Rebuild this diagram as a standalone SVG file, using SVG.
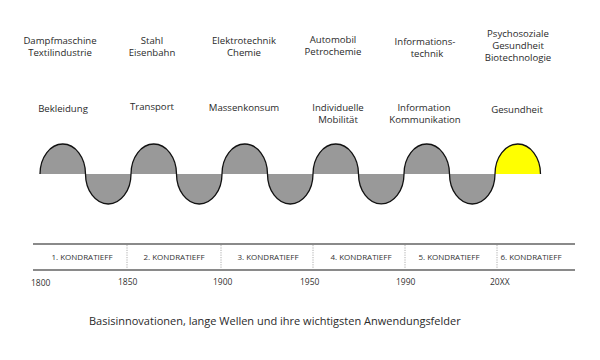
<svg xmlns="http://www.w3.org/2000/svg" width="600" height="360" viewBox="0 0 600 360">
<style>
text{font-family:"Open Sans","Noto Sans","Liberation Sans",sans-serif;fill:#2a2a2a;}
.t{font-size:9.6px;text-anchor:middle;}
.k{font-size:8px;text-anchor:middle;fill:#333;}
.y{font-size:8.5px;fill:#333;}
.cap{font-size:11px;}
.line{stroke:#8a8a8a;stroke-width:2;fill:none;}
.div{stroke:#999;stroke-width:0.8;stroke-dasharray:1.2 1.2;fill:none;}
</style>
<rect width="600" height="360" fill="#fff"/>
<g id="wave">
<path d="M40,174 A22.75,30 0 0 1 85.5,174 A22.75,30 0 0 0 131,174 A22.75,30 0 0 1 176.5,174 A22.75,30 0 0 0 222,174 A22.75,30 0 0 1 267.5,174 A22.75,30 0 0 0 313,174 A22.75,30 0 0 1 358.5,174 A22.75,30 0 0 0 404,174 A22.75,30 0 0 1 449.5,174 A22.75,30 0 0 0 495,174 Z" fill="#999"/>
<path d="M495,174 A22.75,30 0 0 1 540.5,174 Z" fill="#ffff00"/>
<path d="M40,174 A22.75,30 0 0 1 85.5,174 A22.75,30 0 0 0 131,174 A22.75,30 0 0 1 176.5,174 A22.75,30 0 0 0 222,174 A22.75,30 0 0 1 267.5,174 A22.75,30 0 0 0 313,174 A22.75,30 0 0 1 358.5,174 A22.75,30 0 0 0 404,174 A22.75,30 0 0 1 449.5,174 A22.75,30 0 0 0 495,174 A22.75,30 0 0 1 540.5,174" fill="none" stroke="#111" stroke-width="1.3"/>
</g>
<g id="timeline">
<line class="line" x1="33" y1="244" x2="575" y2="244"/>
<line class="line" x1="33" y1="270" x2="575" y2="270"/>
<line class="div" x1="127" y1="245" x2="127" y2="269"/>
<line class="div" x1="221" y1="245" x2="221" y2="269"/>
<line class="div" x1="313" y1="245" x2="313" y2="269"/>
<line class="div" x1="405" y1="245" x2="405" y2="269"/>
<line class="div" x1="497" y1="245" x2="497" y2="269"/>
</g>
<g id="k1">
<text class="t" x="60" y="44">Dampfmaschine</text>
<text class="t" x="60" y="56">Textilindustrie</text>
<text class="t" x="63" y="112">Bekleidung</text>
<text class="k" x="82" y="260">1. KONDRATIEFF</text>
</g>
<g id="k2">
<text class="t" x="152" y="44">Stahl</text>
<text class="t" x="152" y="56">Eisenbahn</text>
<text class="t" x="152" y="110">Transport</text>
<text class="k" x="174" y="260">2. KONDRATIEFF</text>
</g>
<g id="k3">
<text class="t" x="244" y="44">Elektrotechnik</text>
<text class="t" x="244" y="56">Chemie</text>
<text class="t" x="244" y="111">Massenkonsum</text>
<text class="k" x="268" y="260">3. KONDRATIEFF</text>
</g>
<g id="k4">
<text class="t" x="333" y="43">Automobil</text>
<text class="t" x="333" y="55">Petrochemie</text>
<text class="t" x="338" y="111">Individuelle</text>
<text class="t" x="338" y="123">Mobilität</text>
<text class="k" x="361" y="260">4. KONDRATIEFF</text>
</g>
<g id="k5">
<text class="t" x="425" y="45">Informations-</text>
<text class="t" x="427" y="57">technik</text>
<text class="t" x="424" y="111">Information</text>
<text class="t" x="425" y="123">Kommunikation</text>
<text class="k" x="449" y="260">5. KONDRATIEFF</text>
</g>
<g id="k6">
<text class="t" x="518" y="37">Psychosoziale</text>
<text class="t" x="518" y="49">Gesundheit</text>
<text class="t" x="518" y="61">Biotechnologie</text>
<text class="t" x="517" y="113">Gesundheit</text>
<text class="k" x="531" y="260">6. KONDRATIEFF</text>
</g>
<g id="years">
<text class="y" x="31" y="286">1800</text>
<text class="y" x="118" y="285">1850</text>
<text class="y" x="213" y="285">1900</text>
<text class="y" x="300" y="285">1950</text>
<text class="y" x="396" y="285">1990</text>
<text class="y" x="490" y="285">20XX</text>
</g>
<text id="caption" class="cap" x="89" y="325">Basisinnovationen, lange Wellen und ihre wichtigsten Anwendungsfelder</text>
</svg>
